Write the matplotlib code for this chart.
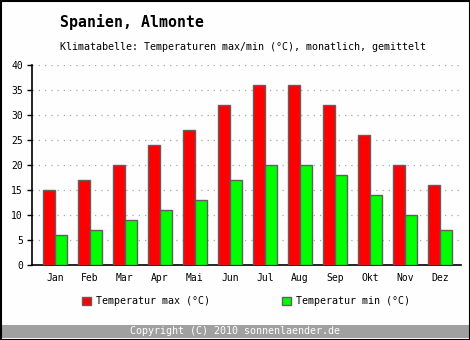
import numpy as np
import matplotlib.pyplot as plt
from matplotlib.patches import Rectangle

# --- データ ---
monate = ['Jan', 'Feb', 'Mar', 'Apr', 'Mai', 'Jun', 'Jul', 'Aug', 'Sep', 'Okt', 'Nov', 'Dez']
t_max = [15, 17, 20, 24, 27, 32, 36, 36, 32, 26, 20, 16]
t_min = [6, 7, 9, 11, 13, 17, 20, 20, 18, 14, 10, 7]
y_ticks = [0, 5, 10, 15, 20, 25, 30, 35, 40]

plt.rcParams['font.family'] = ['DejaVu Sans Mono']

W, H = 470, 340
bg = '#fdfefd'
fig = plt.figure(figsize=(W / 100, H / 100), dpi=100, facecolor=bg)

# 軸の位置（ピクセルから換算）
ax = fig.add_axes([32 / W, 75 / H, 429 / W, 200 / H])
ax.set_facecolor(bg)

x = np.arange(len(monate))
bw = 0.343
b1 = ax.bar(x - bw / 2, t_max, bw, color='#ff0000', edgecolor='#606060', linewidth=1.0,
            label='Temperatur max (°C)', zorder=3)
b2 = ax.bar(x + bw / 2, t_min, bw, color='#00ff00', edgecolor='#606060', linewidth=1.0,
            label='Temperatur min (°C)', zorder=3)

ax.set_xlim(-0.65, 11.6)
ax.set_ylim(0, 40)
ax.set_yticks(y_ticks)
ax.set_xticks(x)
ax.set_xticklabels(monate, fontsize=7)
ax.tick_params(axis='y', direction='out', length=3.6, width=1, pad=3, labelsize=7)
ax.tick_params(axis='x', length=0, pad=6)

for s in ['top', 'right']:
    ax.spines[s].set_visible(False)
for s in ['left', 'bottom']:
    ax.spines[s].set_linewidth(1.2)

for yv in y_ticks[1:]:
    ax.axhline(yv, color='#a8a8a8', lw=0.9, linestyle=(0, (1, 4)), zorder=1)

# タイトル
fig.text(60 / W, 1 - 22 / H, 'Spanien, Almonte', fontsize=10.7, fontweight='bold',
         ha='left', va='center')
fig.text(60 / W, 1 - 47 / H,
         'Klimatabelle: Temperaturen max/min (°C), monatlich, gemittelt',
         fontsize=7.2, ha='left', va='center')

# 凡例（2つを別々に配置）
for h, xpos in [(b1, 82), (b2, 282)]:
    lg = fig.legend([h], [h.get_label()], loc='center left',
                    bbox_to_anchor=(xpos / W, 1 - 301 / H), frameon=False, fontsize=7.2,
                    handlelength=0.85, handleheight=0.85, handletextpad=0.6,
                    borderpad=0, borderaxespad=0)

# フッター
fig.patches.append(Rectangle((1 / W, 2 / H), 468 / W, 13 / H, transform=fig.transFigure,
                             facecolor='#a0a0a0', edgecolor='none'))
fig.text(0.5, 1 - 331.5 / H, 'Copyright (C) 2010 sonnenlaender.de', color='white',
         fontsize=7.2, ha='center', va='center')

# 外枠
fig.patches.append(Rectangle((0.5 / W, 0.5 / H), 469 / W, 339 / H, transform=fig.transFigure,
                             facecolor='none', edgecolor='black', linewidth=1.5))

fig.savefig('out.png', dpi=100, facecolor=bg)
